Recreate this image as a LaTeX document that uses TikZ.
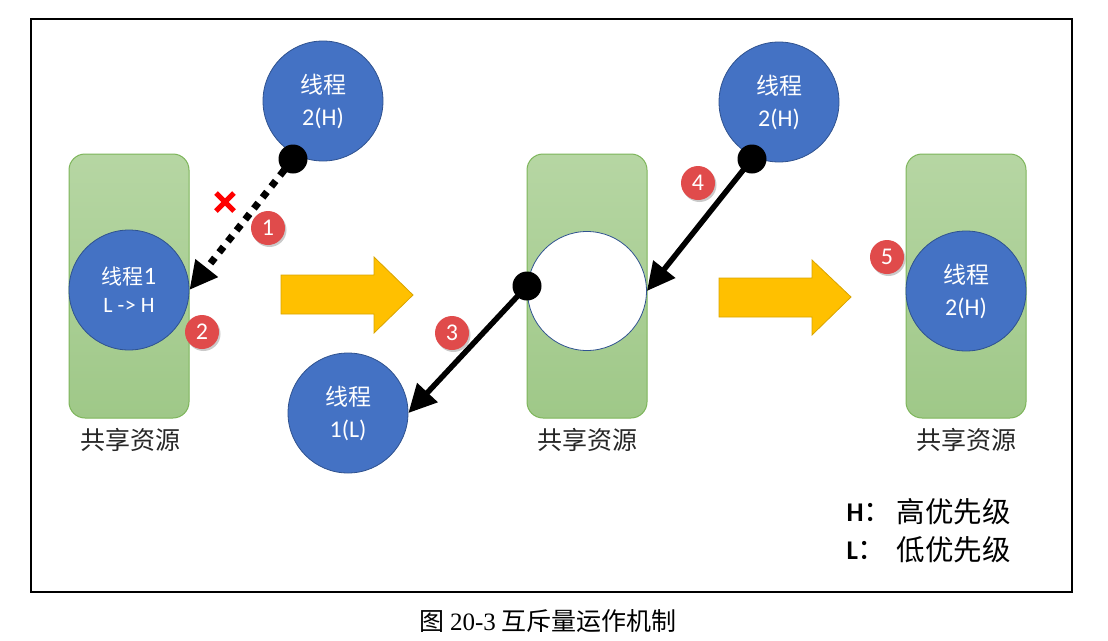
\documentclass[tikz,border=0pt]{standalone}
\usepackage{fontspec}
\setmainfont{Carlito}
\newfontfamily\cjk{Noto Sans CJK SC}
\newfontfamily\capserif{Liberation Serif}
\usetikzlibrary{arrows.meta,shadows}
\definecolor{restop}{HTML}{B6D6A3}
\definecolor{resbot}{HTML}{9FC888}
\definecolor{resborder}{HTML}{7DB55A}
\definecolor{thrblue}{HTML}{4472C4}
\definecolor{thrborder}{HTML}{2F528F}
\definecolor{badgered}{HTML}{E04B4B}
\definecolor{yel}{HTML}{FFC000}
\definecolor{yelborder}{HTML}{D9A400}
\begin{document}
\begin{tikzpicture}[x=1pt,y=-1pt,
  res/.style={draw=resborder, line width=1pt, rounded corners=16pt, top color=restop, bottom color=resbot, minimum width=120pt, minimum height=264pt, inner sep=0pt},
  thr/.style={circle, draw=thrborder, line width=0.8pt, fill=thrblue, minimum size=120pt, inner sep=0pt, text=white, align=center, font=\fontsize{24}{32}\selectfont},
  dotn/.style={circle, fill=black, minimum size=29pt, inner sep=0pt},
  badge/.style={circle, fill=badgered, minimum size=34pt, inner sep=0pt, text=white, font=\fontsize{24}{24}\selectfont, drop shadow={opacity=0.35, shadow xshift=1.5pt, shadow yshift=-2pt, fill=black!60}},
  conn/.style={line width=5.5pt, -{Triangle[length=28pt,width=27pt]}},
  dotconn/.style={line width=7pt, dash pattern=on 7pt off 7pt, -{Triangle[length=28pt,width=27pt]}},
  bigarrow/.style={fill=yel, draw=yelborder, line width=0.8pt},
  reslabel/.style={font=\cjk\fontsize{25}{28}\selectfont, text=black!85},
  legend/.style={font=\cjk\fontsize{28.5}{32}\selectfont, anchor=west}
]
\useasboundingbox (0,0) rectangle (1108,640);
\node[draw=black, line width=2pt, minimum width=1041pt, minimum height=573pt, inner sep=0pt] (frame) at (551.5,305.5) {};

% shared resources
\node[res] (r1) at (129,286) {};
\node[res] (r2) at (587,286) {};
\node[res] (r3) at (966,286) {};
\node[reslabel] (l1) at (130,440) {共享资源};
\node[reslabel] (l2) at (587,440) {共享资源};
\node[reslabel] (l3) at (966,440) {共享资源};

% threads
\node[thr, font=\fontsize{22}{28}\selectfont] (t1) at (129,290) {{\cjk\fontsize{21}{28}\selectfont 线程}{\fontsize{25}{28}\selectfont 1}\\{L -\kern0.5pt> H}};
\node[thr] (t2a) at (323,101) {{\cjk\fontsize{23}{32}\selectfont 线程}\\2(H)};
\node[thr] (t1l) at (348,413) {{\cjk\fontsize{23}{32}\selectfont 线程}\\1(L)};
\node[circle, draw=thrborder, line width=0.8pt, fill=white, minimum size=119pt, inner sep=0pt] (empty) at (587,291) {};
\node[thr] (t2b) at (779,102) {{\cjk\fontsize{23}{32}\selectfont 线程}\\2(H)};
\node[thr] (t2c) at (966,291) {{\cjk\fontsize{23}{32}\selectfont 线程}\\2(H)};

% dots (anchors of connectors)
\coordinate (d1) at (293,159);
\coordinate (d3) at (527,286);
\coordinate (d4) at (752,159);

% connectors
\draw[dotconn] (d1) -- (t1.east);
\draw[conn] (d3) -- (t1l.east);
\draw[conn] (d4) -- (empty.east);
\node[dotn] (n1) at (d1) {};
\node[dotn] (n3) at (d3) {};
\node[dotn] (n4) at (d4) {};

% red cross
\draw[red, line width=5pt] (216,193) -- (234,211) (234,193) -- (216,211);

% big yellow arrows
\draw[bigarrow] (281,275) -- (374,275) -- (374,257) -- (413,295) -- (374,333) -- (374,314) -- (281,314) -- cycle;
\draw[bigarrow] (719,278) -- (812,278) -- (812,260) -- (851,297) -- (812,335) -- (812,317) -- (719,317) -- cycle;

% badges
\node[badge] (b1) at (268,228) {1};
\node[badge] (b2) at (202,332) {2};
\node[badge] (b3) at (452,333) {3};
\node[badge] (b4) at (698,183) {4};
\node[badge] (b5) at (887,257) {5};

% legend
\node[legend] (lh) at (843,512) {{\rmfamily\bfseries\fontsize{27}{30}\selectfont H}：};
\node[legend] (lhx) at (893,512) {高优先级};
\node[legend] (ll) at (843,550) {{\rmfamily\bfseries\fontsize{27}{30}\selectfont L}：};
\node[legend] (llx) at (893,550) {低优先级};

% caption
\node[font=\cjk\fontsize{25}{28}\selectfont] (cap) at (548,621) {图 {\capserif 20-3} 互斥量运作机制};
\end{tikzpicture}
\end{document}
